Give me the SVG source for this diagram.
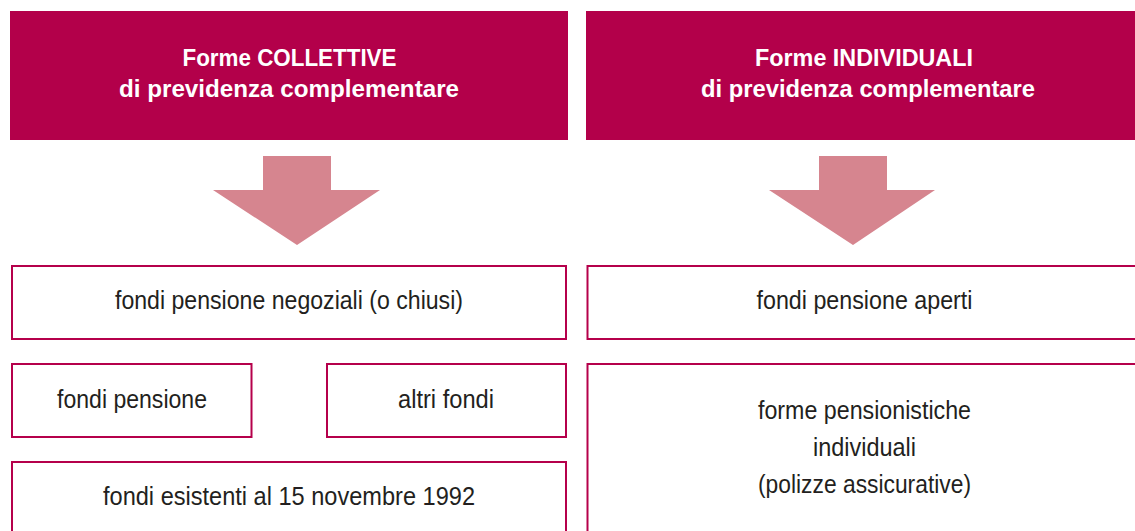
<svg xmlns="http://www.w3.org/2000/svg" width="1135" height="531" viewBox="0 0 1135 531">
<style>
.hdr{fill:#b3004a}
.box{fill:#fff;stroke:#b5004b;stroke-width:2}
.arr{fill:#d6858f}
.ht{font-family:"Liberation Sans",Arial,sans-serif;font-weight:bold;font-size:23px;fill:#fff;text-anchor:middle}
.bt{font-family:"Liberation Sans",Arial,sans-serif;font-size:25px;fill:#231f20;text-anchor:middle}
</style>
<rect width="1135" height="531" fill="#fff"/>
<g id="hdr-collettive">
<rect class="hdr" x="10" y="11" width="558" height="129"/>
<text class="ht" x="289.5" y="66" textLength="214" lengthAdjust="spacingAndGlyphs">Forme COLLETTIVE</text>
<text class="ht" x="289" y="97" textLength="340" lengthAdjust="spacingAndGlyphs">di previdenza complementare</text>
</g>
<g id="hdr-individuali">
<rect class="hdr" x="586" y="11" width="549" height="129"/>
<text class="ht" x="864" y="66" textLength="218" lengthAdjust="spacingAndGlyphs">Forme INDIVIDUALI</text>
<text class="ht" x="868" y="97" textLength="334" lengthAdjust="spacingAndGlyphs">di previdenza complementare</text>
</g>
<g id="connectors">
<polygon class="arr" points="263,156 331,156 331,190 380,190 297,245 213,190 263,190"/>
<polygon class="arr" points="819,156 887,156 887,190 935,190 853,245 769,190 819,190"/>
</g>
<g id="negoziali">
<rect class="box" x="12" y="266" width="554" height="73"/>
<text class="bt" x="289" y="309" textLength="348" lengthAdjust="spacingAndGlyphs">fondi pensione negoziali (o chiusi)</text>
</g>
<g id="aperti">
<rect class="box" x="587.5" y="266" width="560" height="73"/>
<text class="bt" x="864.5" y="309" textLength="216" lengthAdjust="spacingAndGlyphs">fondi pensione aperti</text>
</g>
<g id="fondi-pensione">
<rect class="box" x="12" y="364" width="239.5" height="73"/>
<text class="bt" x="132" y="408" textLength="150" lengthAdjust="spacingAndGlyphs">fondi pensione</text>
</g>
<g id="altri-fondi">
<rect class="box" x="327" y="364" width="239" height="73"/>
<text class="bt" x="446" y="408" textLength="96" lengthAdjust="spacingAndGlyphs">altri fondi</text>
</g>
<g id="esistenti">
<rect class="box" x="12" y="462" width="554" height="90"/>
<text class="bt" x="289" y="505" textLength="372" lengthAdjust="spacingAndGlyphs">fondi esistenti al 15 novembre 1992</text>
</g>
<g id="pip">
<rect class="box" x="587.5" y="364" width="560" height="190"/>
<text class="bt" x="864.5" y="419" textLength="213" lengthAdjust="spacingAndGlyphs">forme pensionistiche</text>
<text class="bt" x="864.5" y="456" textLength="103" lengthAdjust="spacingAndGlyphs">individuali</text>
<text class="bt" x="864.5" y="493" textLength="213" lengthAdjust="spacingAndGlyphs">(polizze assicurative)</text>
</g>
</svg>
